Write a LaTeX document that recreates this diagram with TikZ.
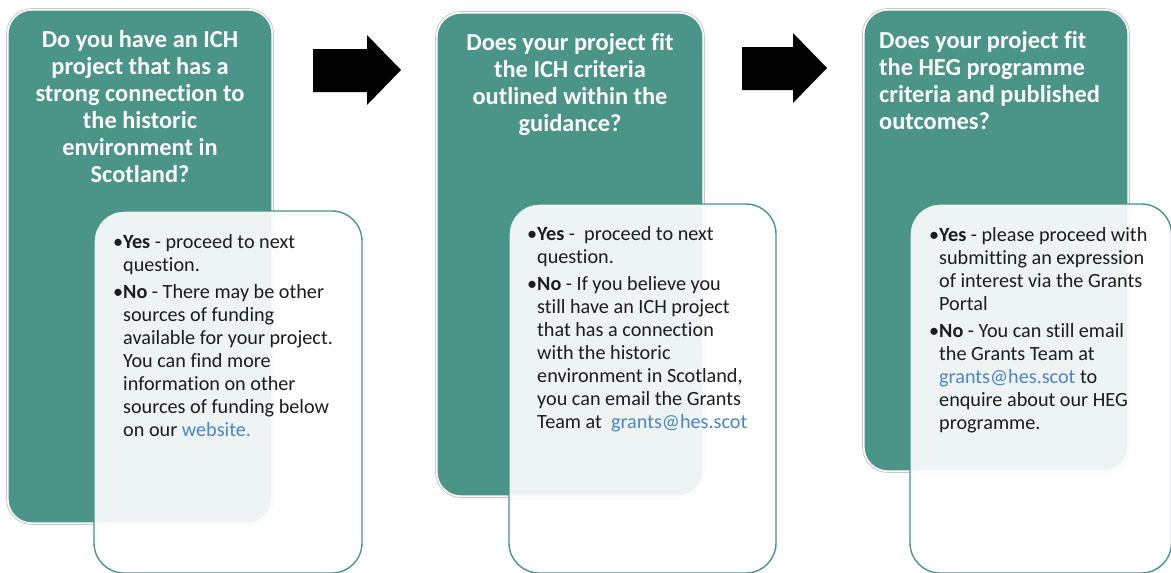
\documentclass[tikz,border=0pt]{standalone}
\usepackage{fontspec}
\setmainfont{Carlito}[Ligatures=NoCommon]
\definecolor{tealq}{RGB}{74,148,136}
\definecolor{linkblue}{RGB}{74,134,200}
\definecolor{txt}{RGB}{28,28,28}
\tikzset{
  qbox/.style={fill=tealq, draw=white, line width=1.2pt, rounded corners=24pt},
  qhalo/.style={draw=black!22, line width=0.8pt, rounded corners=25.5pt},
  abox/.style={fill=white, fill opacity=0.9, draw=tealq, line width=1.4pt, rounded corners=30pt},
  qtext/.style={text=white, font=\fontsize{24.4}{27.1}\selectfont\bfseries, inner sep=0pt},
  atext/.style={text=txt, font=\fontsize{20.2}{23}\selectfont, inner sep=0pt, align=left},
  blockarrow/.style={fill=black}
}
\newcommand{\lnk}[1]{\textcolor{linkblue}{#1}}
\newcommand{\bul}{\llap{•}}
\begin{document}
\begin{tikzpicture}[x=1pt,y=-1pt]
\useasboundingbox (0,0) rectangle (1171,573);
\clip (0,0) rectangle (1171,573);
% column 1
\draw[qhalo] (6.5,8.5) rectangle (273.5,524.5);
\draw[qbox] (8,10) rectangle (272,523);
\draw[abox] (94,211) rectangle (362,573);
% column 2
\draw[qhalo] (435.5,11.5) rectangle (704.5,497.5);
\draw[qbox] (437,13) rectangle (703,496);
\draw[abox] (509,204) rectangle (776,573);
% column 3
\draw[qhalo] (862.5,8.5) rectangle (1129.5,472.5);
\draw[qbox] (864,10) rectangle (1128,471);
\draw[abox] (910,204) rectangle (1171.5,573);
% arrows
\fill[blockarrow] (313,49) -- (367,49) -- (367,35) -- (401,70) -- (367,105) -- (367,92) -- (313,92) -- cycle;
\fill[blockarrow] (742,47) -- (793,47) -- (793,33) -- (827,68) -- (793,103) -- (793,90) -- (742,90) -- cycle;
% headings
\node[qtext, align=center, anchor=north] (q1) at (140,30)
  {Do you have an ICH\\project that has a\\strong connection to\\the historic\\environment in\\Scotland?};
\node[qtext, align=center, anchor=north] (q2) at (570,33)
  {Does your project fit\\the ICH criteria\\outlined within the\\guidance?};
\node[qtext, align=left, anchor=north west] (q3) at (879,31)
  {Does your project fit\\the HEG programme\\criteria and published\\outcomes?};
% answers
\node[atext, anchor=north west] (a1) at (123,234)
  {\bul\textbf{Yes} - proceed to next\\question.\\[4pt]
   \bul\textbf{No} - There may be other\\sources of funding\\available for your project.\\You can find more\\information on other\\sources of funding below\\on our \lnk{website.}};
\node[atext, anchor=north west] (a2) at (537,226)
  {\bul\textbf{Yes} -\ \ proceed to next\\question.\\[4pt]
   \bul\textbf{No} - If you believe you\\still have an ICH project\\that has a connection\\with the historic\\environment in Scotland,\\you can email the Grants\\Team at\ \ \lnk{grants@hes.scot}};
\node[atext, anchor=north west] (a3) at (939,227)
  {\bul\textbf{Yes} - please proceed with\\submitting an expression\\of interest via the Grants\\Portal\\[4pt]
   \bul\textbf{No} - You can still email\\the Grants Team at\\\lnk{grants@hes.scot} to\\enquire about our HEG\\programme.};
\end{tikzpicture}
\end{document}
